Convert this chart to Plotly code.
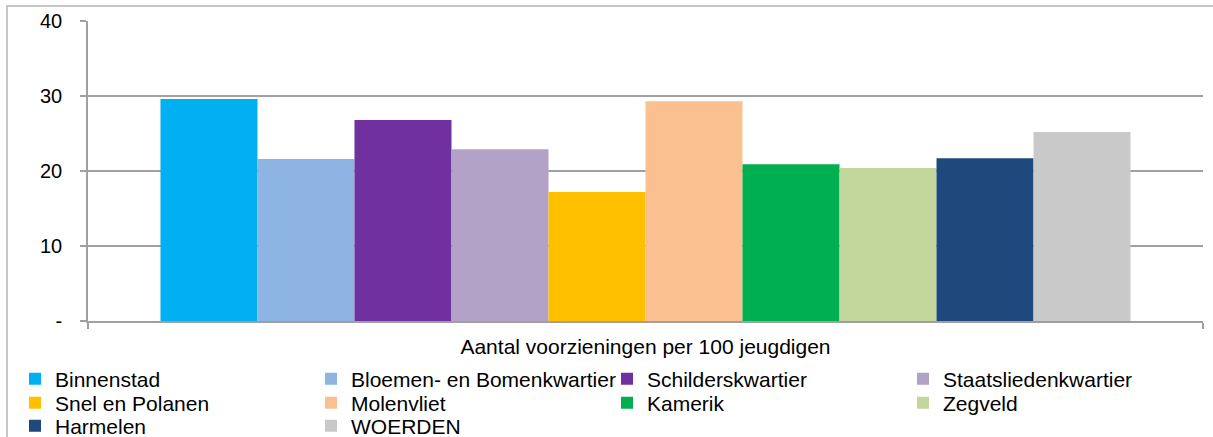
import plotly.graph_objects as go

category = "Aantal voorzieningen per 100 jeugdigen"
wijken = ["Binnenstad", "Bloemen- en Bomenkwartier", "Schilderskwartier", "Staatsliedenkwartier",
          "Snel en Polanen", "Molenvliet", "Kamerik", "Zegveld", "Harmelen", "WOERDEN"]
waarden = [29.6, 21.6, 26.8, 22.9, 17.2, 29.3, 20.9, 20.4, 21.7, 25.2]
kleuren = ["#00B0F0", "#8EB4E3", "#7030A0", "#B3A2C7", "#FFC000",
           "#FAC090", "#00B050", "#C3D69B", "#1F497D", "#C9C9C9"]
y_ticks = [0, 10, 20, 30, 40]
y_ticktext = ["-", "10", "20", "30", "40"]

W, H = 1213, 437
L, R, T, B = 88, 10, 21, 116
pw, ph = W - L - R, H - T - B
FONT = "Liberation Sans, Arial, sans-serif"
GRID = "#A0A0A0"

def px_x(x):
    return (x - L) / pw

def px_y(y):
    return (H - B - y) / ph

# excel legend: 4 per row, one legend per row so the row spacing can be set
legend_rows = ["legend", "legend2", "legend3"]
row_y = [379, 403, 426]

fig = go.Figure()
for i, (naam, val, kleur) in enumerate(zip(wijken, waarden, kleuren)):
    fig.add_trace(go.Bar(x=[category], y=[val], name=naam, marker=dict(color=kleur, line_width=0),
                         legend=legend_rows[i // 4], hoverinfo="name+y"))

leg = dict(orientation="h", xanchor="left", yanchor="middle", x=px_x(15),
           entrywidth=251, entrywidthmode="pixels", bgcolor="rgba(0,0,0,0)",
           font=dict(family=FONT, size=21, color="#000000"), itemclick=False)
legends = {name: dict(leg, y=px_y(yy)) for name, yy in zip(legend_rows, row_y)}

fig.update_layout(
    width=W, height=H,
    margin=dict(l=L, r=R, t=T, b=B, autoexpand=False),
    paper_bgcolor="white", plot_bgcolor="white",
    font=dict(family=FONT, size=20, color="#000000"),
    barmode="group", bargap=0.13, bargroupgap=0,
    hovermode=False,
    **legends,
    xaxis=dict(type="category", showline=True, linecolor=GRID, linewidth=1.7,
               ticks="outside", tickson="boundaries", ticklen=6, tickcolor=GRID, tickwidth=1.7,
               showgrid=False, tickfont=dict(size=21), ticklabelstandoff=6, fixedrange=True),
    yaxis=dict(range=[0, 40], tickvals=y_ticks, ticktext=y_ticktext, showline=True,
               linecolor=GRID, linewidth=1.7, ticks="outside", ticklen=6, tickcolor=GRID,
               tickwidth=1.7, showgrid=True, gridcolor=GRID, gridwidth=1.7, zeroline=False,
               ticklabelstandoff=14, tickfont=dict(size=20), fixedrange=True),
    shapes=[dict(type="rect", xref="paper", yref="paper", x0=px_x(7), x1=px_x(W + 20),
                 y0=px_y(H + 20), y1=px_y(6), line=dict(color="#B4B4B4", width=1.5),
                 fillcolor="rgba(0,0,0,0)", layer="below")],
)

fig.write_html("out.html", config={"displayModeBar": False},
               post_script="document.body.style.margin='0';")
